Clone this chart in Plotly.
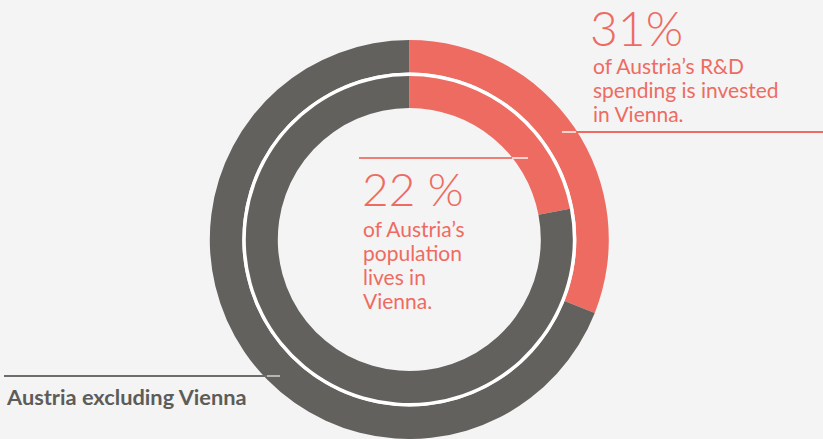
import plotly.graph_objects as go

# ---- data ----
segments = ["Vienna", "Austria excluding Vienna"]
rd_share = [31, 69]          # outer ring: share of R&D spending
pop_share = [22, 78]         # inner ring: share of population

rd_label_pct = "31%"
rd_label_lines = ["of Austria’s R&D", "spending is invested", "in Vienna."]
pop_label_pct = "22 %"
pop_label_lines = ["of Austria’s", "population", "lives in", "Vienna."]
rest_label = "Austria excluding Vienna"

# ---- style ----
W, H = 823, 439
BG = "#F4F4F4"
CORAL = "#EE6B62"
GRAY = "#63615D"
GRAY_TXT = "#5E5C58"
FONT = "Lato"

CX, CY = 409.3, 239.5
R_OUT, R_OUT_IN = 199.5, 167.0
R_WHITE_IN = 163.5
R_IN_IN = 131.5


def px(x):
    return x / W


def py(y):
    return 1 - y / H


def dom(r):
    return dict(x=[px(CX - r), px(CX + r)], y=[py(CY + r), py(CY - r)])


fig = go.Figure()
fig.add_trace(go.Pie(labels=segments, values=rd_share, domain=dom(R_OUT),
                     hole=R_OUT_IN / R_OUT, sort=False, direction="clockwise",
                     marker=dict(colors=[CORAL, GRAY], line=dict(width=0)),
                     textinfo="none", hoverinfo="label+percent", showlegend=False))
fig.add_trace(go.Pie(labels=["sep"], values=[1], domain=dom(R_OUT_IN),
                     hole=R_WHITE_IN / R_OUT_IN, sort=False,
                     marker=dict(colors=["#FFFFFF"], line=dict(width=0)),
                     textinfo="none", hoverinfo="skip", showlegend=False))
fig.add_trace(go.Pie(labels=segments, values=pop_share, domain=dom(R_WHITE_IN),
                     hole=R_IN_IN / R_WHITE_IN, sort=False, direction="clockwise",
                     marker=dict(colors=[CORAL, GRAY], line=dict(width=0)),
                     textinfo="none", hoverinfo="label+percent", showlegend=False))

annotations = []


def ann(text, x_left, baseline, size, color, weight=400, k=0.42):
    annotations.append(dict(text=text, x=px(x_left), y=py(baseline - k * size),
                            xref="paper", yref="paper", xanchor="left", yanchor="middle",
                            showarrow=False, align="left",
                            font=dict(family=FONT, size=size, color=color, weight=weight)))


ann(rd_label_pct, 588, 46.5, 48, CORAL, 300, 0.39)
for i, t in enumerate(rd_label_lines):
    ann(t, 591, 74 + 24 * i, 21, CORAL, 400, 0.42)

ann(pop_label_pct, 360, 206, 46, CORAL, 300, 0.39)
for i, t in enumerate(pop_label_lines):
    ann(t, 361, 237.5 + 24 * i, 21, CORAL, 400, 0.42)

ann(rest_label, 4, 406, 21.8, GRAY_TXT, 700, 0.42)

shapes = []


def hline(x0, x1, y, color, width=2):
    shapes.append(dict(type="line", xref="paper", yref="paper",
                       x0=px(x0), x1=px(x1), y0=py(y), y1=py(y),
                       line=dict(color=color, width=width)))


# leader lines (lighter where they cross the rings)
hline(359, 512, 158, "#EE7F77")
hline(512, 528, 158, "#F7D3CF")
hline(576, 823, 132, "#EE6B62")
hline(562, 576, 132, "#F7D3CF")
hline(4, 267, 376, "#6E6C68")
hline(267, 280, 376, "#B8B6B2")

fig.update_layout(width=W, height=H, margin=dict(l=0, r=0, t=0, b=0),
                  paper_bgcolor=BG, plot_bgcolor=BG,
                  annotations=annotations, shapes=shapes)

fig.write_html("out.html", config={"displayModeBar": False},
               post_script="document.body.style.margin='0';document.body.style.overflow='hidden';")
